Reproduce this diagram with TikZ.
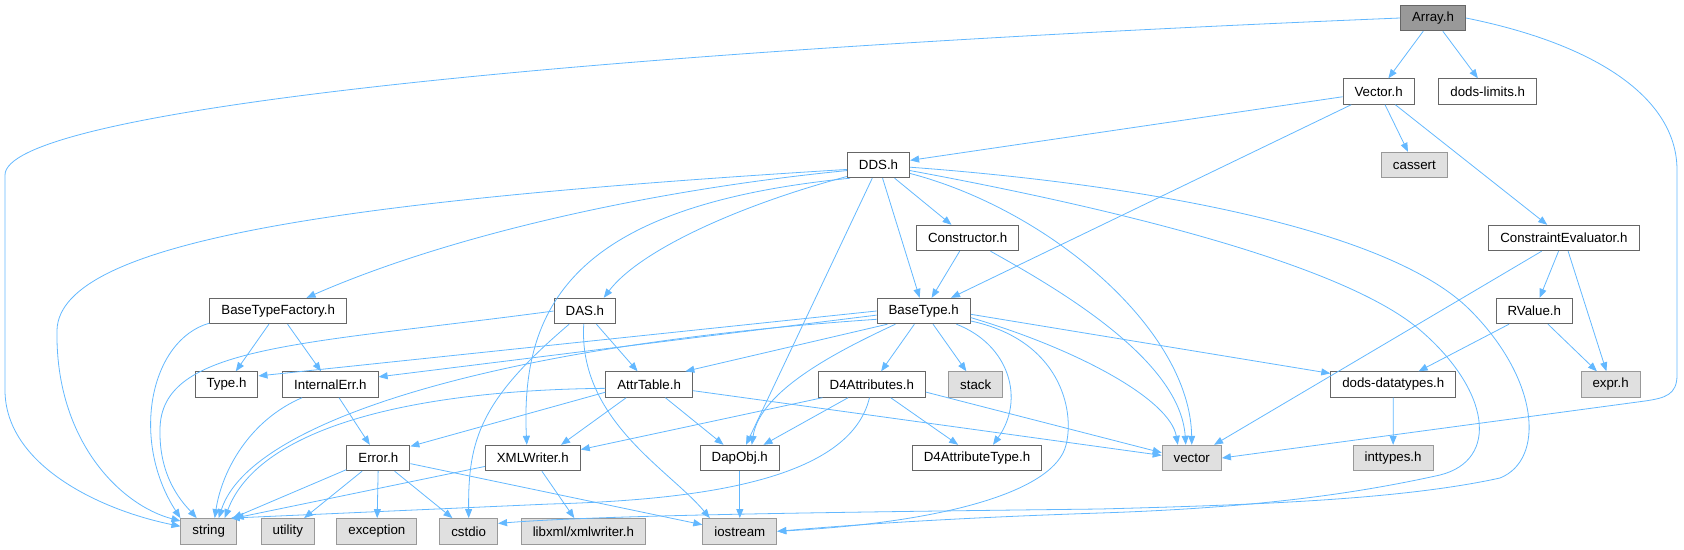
\documentclass[tikz,border=0pt]{standalone}
\usepackage{fontspec}
\setmainfont{Liberation Sans}
\usetikzlibrary{arrows.meta}
\definecolor{edgeblue}{HTML}{63B8FF}
\definecolor{boxline}{HTML}{666666}
\definecolor{sysline}{HTML}{999999}
\definecolor{sysfill}{HTML}{E0E0E0}
\definecolor{rootfill}{HTML}{999999}
\begin{document}
\begin{tikzpicture}[x=1pt, y=-1pt,
    font=\fontsize{13.3}{15}\selectfont,
    hdrbox/.style={draw=boxline, fill=white, line width=1pt, inner xsep=11.5pt, inner ysep=0pt, minimum height=25.4pt},
    sysbox/.style={hdrbox, draw=sysline, fill=sysfill},
    rootbox/.style={hdrbox, fill=rootfill},
    incl/.style={draw=edgeblue, line width=0.8pt, -{Triangle[length=9pt,width=7pt]}}]
    \useasboundingbox (0,0) rectangle (1684,549);
    % Headers, row by row
    \node[rootbox] (arr) at (1433,18) {Array.h};
    \node[hdrbox] (vec) at (1378.6,91.5) {Vector.h};
    \node[hdrbox] (lim) at (1487.7,91.5) {dods-limits.h};
    \node[hdrbox] (dds) at (878.5,165) {DDS.h};
    \node[sysbox] (cas) at (1414.4,165) {cassert};
    \node[hdrbox] (con) at (967.6,238) {Constructor.h};
    \node[hdrbox] (ce) at (1563.9,238) {ConstraintEvaluator.h};
    \node[hdrbox] (btf) at (278.2,311) {BaseTypeFactory.h};
    \node[hdrbox] (das) at (584.9,311) {DAS.h};
    \node[hdrbox] (bt) at (923.7,311) {BaseType.h};
    \node[hdrbox] (rv) at (1534.3,311) {RValue.h};
    \node[hdrbox] (typ) at (226.5,384.5) {Type.h};
    \node[hdrbox] (ie) at (330.4,384.5) {InternalErr.h};
    \node[hdrbox] (attr) at (649.1,384.5) {AttrTable.h};
    \node[hdrbox] (d4a) at (871.8,384.5) {D4Attributes.h};
    \node[sysbox] (stk) at (975.7,384.5) {stack};
    \node[hdrbox] (ddt) at (1393.3,384.5) {dods-datatypes.h};
    \node[sysbox] (expr) at (1610.6,384.5) {expr.h};
    \node[hdrbox] (err) at (378.4,458) {Error.h};
    \node[hdrbox] (xml) at (532.8,458) {XMLWriter.h};
    \node[hdrbox] (dap) at (739.8,458) {DapObj.h};
    \node[hdrbox] (d4t) at (977,458) {D4AttributeType.h};
    \node[sysbox] (vct) at (1191.8,458) {vector};
    \node[sysbox] (ity) at (1393.1,458) {inttypes.h};
    \node[sysbox] (str) at (208.7,531.3) {string};
    \node[sysbox] (utl) at (287.8,531.3) {utility};
    \node[sysbox] (exc) at (376.9,531.3) {exception};
    \node[sysbox] (cio) at (468.7,531.3) {cstdio};
    \node[sysbox] (lxw) at (583.4,531.3) {libxml/xmlwriter.h};
    \node[sysbox] (ios) at (739.8,531.3) {iostream};
    % Array.h
    \draw[incl] (arr.west) .. controls (500,55) and (5,115) .. (5,175) -- (5,390) .. controls (5,465) and (100,510) .. (str.170);
    \draw[incl] (arr) -- (vec);
    \draw[incl] (arr) -- (lim);
    \draw[incl] (arr.east) .. controls (1600,45) and (1677,100) .. (1677,170) -- (1677,375) .. controls (1677,395) and (1665,398) .. (1645,401) -- (vct.east);
    % Vector.h
    \draw[incl] (vec) -- (dds);
    \draw[incl] (vec) -- (bt);
    \draw[incl] (vec) -- (cas);
    \draw[incl] (vec) -- (ce);
    % ConstraintEvaluator.h and RValue.h
    \draw[incl] (ce) -- (rv);
    \draw[incl] (ce) -- (expr);
    \draw[incl] (ce) -- (vct);
    \draw[incl] (rv) -- (ddt);
    \draw[incl] (rv) -- (expr);
    \draw[incl] (ddt) -- (ity);
    % DDS.h
    \draw[incl] (dds.188) .. controls (350,200) and (60,240) .. (57,330) .. controls (55,440) and (120,505) .. (str.160);
    \draw[incl] (dds.190) .. controls (650,190) and (450,235) .. (btf.25);
    \draw[incl] (dds.200) .. controls (740,205) and (640,250) .. (das.35);
    \draw[incl] (dds.205) .. controls (580,205) and (520,300) .. ([xshift=-6pt]xml.north);
    \draw[incl] (dds) -- (dap);
    \draw[incl] (dds) -- (bt);
    \draw[incl] (dds) -- (con);
    \draw[incl] (dds.-15) .. controls (1050,210) and (1190,330) .. (vct.north);
    \draw[incl] (dds.-4) .. controls (1150,185) and (1390,230) .. (1470,310) .. controls (1540,380) and (1545,460) .. (1500,478) .. controls (1400,500) and (1250,505) .. (1100,509) .. controls (850,512) and (600,515) .. (cio.15);
    \draw[incl] (dds.-10) .. controls (1150,215) and (1350,270) .. (1420,330) .. controls (1490,390) and (1500,460) .. (1440,475) .. controls (1350,495) and (1250,508) .. (1100,513) .. controls (950,518) and (850,525) .. (ios.east);
    % Constructor.h
    \draw[incl] (con) -- (bt);
    \draw[incl] (con.-30) .. controls (1060,290) and (1180,360) .. ([xshift=-6pt]vct.north);
    % BaseType.h
    \draw[incl] (bt.west) -- (typ.15);
    \draw[incl] (bt.185) -- (ie.9);
    \draw[incl] (bt.190) .. controls (500,345) and (250,420) .. ([xshift=10pt]str.north);
    \draw[incl] (bt.200) -- (attr.20);
    \draw[incl] (bt.-155) .. controls (840,350) and (760,390) .. ([xshift=12pt]dap.north);
    \draw[incl] (bt) -- (d4a);
    \draw[incl] (bt) -- (stk);
    \draw[incl] (bt.-22) .. controls (1010,345) and (1025,400) .. ([xshift=16pt]d4t.north);
    \draw[incl] (bt.-12) .. controls (1060,340) and (1075,410) .. (1066,445) .. controls (1055,490) and (950,522) .. (ios.east);
    \draw[incl] (bt.-8) .. controls (1080,350) and (1170,400) .. ([xshift=-14pt]vct.north);
    \draw[incl] (bt.-4) -- (ddt.170);
    % DAS.h
    \draw[incl] (das.west) .. controls (300,345) and (160,345) .. (160,430) .. controls (159,480) and (185,505) .. ([xshift=-12pt]str.north);
    \draw[incl] (das) -- (attr);
    \draw[incl] (das.-140) .. controls (480,400) and (468,440) .. (cio.north);
    \draw[incl] (das.-95) .. controls (578,420) and (670,470) .. ([xshift=-30pt]ios.north);
    % AttrTable.h
    \draw[incl] (attr.185) .. controls (420,390) and (260,425) .. ([xshift=16pt]str.north);
    \draw[incl] (attr.190) -- (err.20);
    \draw[incl] (attr.-150) -- (xml.25);
    \draw[incl] (attr) -- (dap);
    \draw[incl] (attr.-8) -- (vct.175);
    % D4Attributes.h
    \draw[incl] (d4a.-165) -- (xml.10);
    \draw[incl] (d4a) -- (dap);
    \draw[incl] (d4a) -- (d4t);
    \draw[incl] (d4a.-8) -- (vct.170);
    \draw[incl] (d4a.-100) .. controls (850,480) and (700,500) .. (550,504) -- ([xshift=22pt]str.north);
    % BaseTypeFactory.h and InternalErr.h
    \draw[incl] (btf.-170) .. controls (150,340) and (130,440) .. (str.155);
    \draw[incl] (btf) -- (typ);
    \draw[incl] (btf) -- (ie);
    \draw[incl] (ie.-155) .. controls (250,420) and (222,470) .. ([xshift=6pt]str.north);
    \draw[incl] (ie) -- (err);
    % Error.h
    \draw[incl] (err.-160) -- ([xshift=24pt]str.north);
    \draw[incl] (err) -- (utl);
    \draw[incl] (err) -- (exc);
    \draw[incl] (err) -- (cio);
    \draw[incl] (err.-10) -- (ios.170);
    % XMLWriter.h and DapObj.h
    \draw[incl] (xml.190) -- ([xshift=26pt]str.north);
    \draw[incl] (xml) -- (lxw);
    \draw[incl] (dap) -- (ios);
\end{tikzpicture}
\end{document}
